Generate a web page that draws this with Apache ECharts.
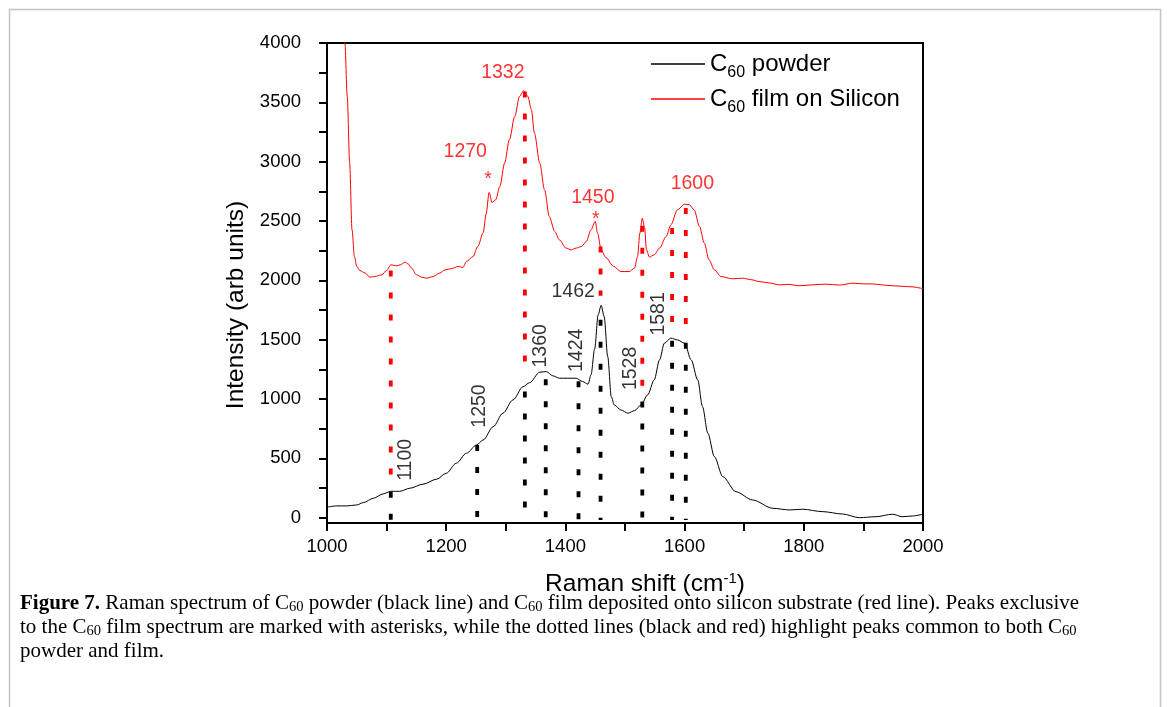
<!DOCTYPE html>
<html>
<head>
<meta charset="utf-8">
<script src="https://cdn.jsdelivr.net/npm/echarts@6/dist/echarts.min.js"></script>
<style>
html, body { margin: 0; padding: 0; background: #fff; }
#chart { width: 1167px; height: 707px; }
</style>
</head>
<body>
<div id="chart"></div>
<script>
// C60 powder (black) spectrum
var powderShift = [1000,1016,1033,1050,1061,1078,1094,1107,1122,1139,1161,1184,1200,1217,1234,1251,1262,1279,1295,1312,1329,1340,1357,1368,1379,1390,1404,1418,1429,1438,1443,1449,1455,1460,1465,1471,1477,1482,1493,1505,1516,1527,1538,1549,1558,1566,1577,1588,1600,1611,1622,1630,1639,1650,1664,1686,1714,1748,1776,1798,1831,1865,1893,1921,1949,1965,1982,2000];
var powderIntensity = [88,99,99,107,127,164,200,222,222,248,282,324,374,459,543,613,655,767,880,992,1104,1138,1226,1231,1195,1175,1175,1175,1147,1125,1203,1420,1710,1790,1695,1358,1020,950,908,880,902,950,1035,1161,1330,1470,1513,1498,1470,1330,1161,936,712,514,346,219,149,79,65,71,51,31,0,8,29,8,14,29];

// C60 film on silicon (red) spectrum
var filmShift = [1027,1030,1034,1038,1042,1046,1050,1055,1064,1072,1080,1092,1100,1107,1117,1123,1131,1136,1142,1150,1159,1167,1178,1189,1198,1209,1220,1228,1234,1245,1253,1262,1267,1272,1277,1283,1290,1298,1306,1315,1323,1330,1337,1343,1348,1357,1365,1373,1382,1390,1401,1410,1418,1427,1435,1443,1450,1454,1460,1468,1481,1493,1507,1516,1521,1525,1529,1533,1536,1541,1549,1558,1569,1577,1588,1600,1608,1616,1625,1633,1641,1650,1661,1680,1697,1712,1725,1742,1759,1775,1792,1815,1837,1860,1882,1900,1915,1930,1943,1958,1971,1985,1996,2000];
var filmIntensity = [4500,4000,3550,2988,2426,2200,2117,2083,2061,2027,2032,2047,2083,2131,2122,2131,2153,2139,2103,2047,2027,2018,2032,2061,2088,2099,2117,2108,2159,2200,2285,2400,2560,2740,2656,2679,2791,2988,3185,3381,3550,3598,3550,3438,3241,2988,2763,2538,2412,2341,2272,2257,2272,2285,2327,2426,2496,2398,2257,2190,2117,2074,2074,2103,2200,2398,2524,2440,2257,2196,2215,2272,2369,2468,2594,2642,2637,2594,2454,2314,2173,2088,2032,2013,2018,2005,1990,1978,1962,1966,1954,1962,1968,1960,1976,1970,1970,1962,1956,1952,1948,1944,1934,1930];

// dotted guide lines
var blackGuideShift = [1107,1252,1332,1367,1422,1459,1529,1579,1602];
var blackGuideTop = [219,613,1063,1167,1150,1667,978,1490,1475];
var redGuideShift = [1107,1332,1459,1529,1579,1602];
var redGuideTop = [2083,3592,2285,2460,2441,2610];
var redGuideBottom = [335,1275,1870,1076,1633,1633];

// peak labels (anchored in data coordinates)
var filmPeakText = ['1332','1270','1450','1600'];
var filmPeakAt = [[1295,3754],[1232,3088],[1446,2696],[1613,2814]];
var filmStarAt = [[1270,2847],[1451,2513]];
var powderPeakText = ['1100','1250','1360','1424','1528','1581'];
var powderPeakAt = [[1132,487],[1256,941],[1358.5,1448],[1419,1410],[1510,1258],[1557,1717]];
var powderFlatText = ['1462'];
var powderFlatAt = [[1413,1903]];

// axes
var xTicks = [1000,1100,1200,1300,1400,1500,1600,1700,1800,1900,2000];
var xLabels = [1000,1200,1400,1600,1800,2000];
var yTicks = [0,250,500,750,1000,1250,1500,1750,2000,2250,2500,2750,3000,3250,3500,3750,4000];
var yLabels = [0,500,1000,1500,2000,2500,3000,3500,4000];

var FONT = 'Liberation Sans, Arial, sans-serif';
var SERIF = 'Liberation Serif, Times New Roman, serif';
var RED = '#ff0000';

function pairs(xs, ys) {
    return xs.map(function (x, i) { return [x, ys[i]]; });
}
function plain(v) { return String(v); }

var chart = echarts.init(document.getElementById('chart'));

var series = [];

// guides first so the spectra sit on top
blackGuideShift.forEach(function (x, i) {
    series.push({
        type: 'line', silent: true, symbol: 'none', z: 1,
        data: [[x, blackGuideTop[i]], [x, -20]],
        lineStyle: { color: '#000', width: 3.8, type: [6, 16] }
    });
});
redGuideShift.forEach(function (x, i) {
    series.push({
        type: 'line', silent: true, symbol: 'none', z: 1,
        data: [[x, redGuideTop[i]], [x, redGuideBottom[i]]],
        lineStyle: { color: RED, width: 3.8, type: [6, 16] }
    });
});

series.push({
    name: 'C60 powder', type: 'line', symbol: 'none', z: 3,
    smooth: 0.3, smoothMonotone: 'x',
    data: pairs(powderShift, powderIntensity),
    itemStyle: { color: '#000' },
    lineStyle: { color: '#000', width: 1 }
});
series.push({
    name: 'C60 film on Silicon', type: 'line', symbol: 'none', z: 3,
    smooth: 0.3, smoothMonotone: 'x',
    data: pairs(filmShift, filmIntensity),
    itemStyle: { color: RED },
    lineStyle: { color: RED, width: 1 }
});

// labels as invisible scatter points
function notes(texts, at, color, rotate) {
    return {
        type: 'scatter', silent: true, symbolSize: 0, z: 4,
        data: at.map(function (p, i) {
            return { value: p, label: { formatter: texts[i] } };
        }),
        label: {
            show: true, position: 'inside', rotate: rotate,
            color: color, fontSize: 19.5, fontFamily: FONT
        }
    };
}
series.push(notes(filmPeakText, filmPeakAt, RED, 0));
series.push(notes(['*', '*'], filmStarAt, RED, 0));
series.push(notes(powderPeakText, powderPeakAt, '#000', 90));
series.push(notes(powderFlatText, powderFlatAt, '#000', 0));

var legendRich = {
    m: { fontSize: 24, fontFamily: FONT, color: '#000' },
    s: { fontSize: 16, fontFamily: FONT, color: '#000', padding: [18, 0, 0, 0] }
};

var captionRich = {
    b: { fontSize: 21, fontFamily: SERIF, fontWeight: 'bold', color: '#000', lineHeight: 24 },
    t: { fontSize: 21, fontFamily: SERIF, color: '#000', lineHeight: 24 },
    s: { fontSize: 14.5, fontFamily: SERIF, color: '#000', padding: [7, 0, 0, 0] }
};

var option = {
    backgroundColor: '#fff',
    animation: false,
    grid: { left: 327, right: 244, top: 43, bottom: 184, show: true, borderColor: '#000', borderWidth: 2 },
    legend: {
        data: ['C60 powder', 'C60 film on Silicon'],
        orient: 'vertical', left: 646, top: 47,
        icon: 'rect', itemWidth: 54, itemHeight: 1.3, itemGap: 6,
        formatter: function (name) {
            return name === 'C60 powder' ? '{m|C}{s|60}{m| powder}' : '{m|C}{s|60}{m| film on Silicon}';
        },
        textStyle: { rich: legendRich }
    },
    xAxis: {
        type: 'value', min: 1000, max: 2000,
        name: '{m|Raman shift (cm}{p|-1}{m|)}',
        nameLocation: 'middle', nameGap: 48,
        nameTextStyle: {
            padding: [0, 0, 0, 40],
            rich: {
                m: { fontSize: 24.5, fontFamily: FONT, color: '#000' },
                p: { fontSize: 15, fontFamily: FONT, color: '#000', padding: [0, 0, 12, 0] }
            }
        },
        axisLine: { onZero: false, lineStyle: { color: '#000', width: 2 } },
        axisTick: { customValues: xTicks, length: 8, lineStyle: { color: '#000', width: 2 } },
        axisLabel: { customValues: xLabels, formatter: plain, margin: 14, fontSize: 18.5, fontFamily: FONT, color: '#000' },
        splitLine: { show: false }
    },
    yAxis: {
        type: 'value', min: -45, max: 4000,
        name: 'Intensity (arb units)',
        nameLocation: 'middle', nameGap: 78,
        nameTextStyle: { fontSize: 24.5, fontFamily: FONT, color: '#000', padding: [0, 44, 0, 0] },
        axisLine: { onZero: false, lineStyle: { color: '#000', width: 2 } },
        axisTick: { customValues: yTicks, length: 8, lineStyle: { color: '#000', width: 2 } },
        axisLabel: { customValues: yLabels, formatter: plain, margin: 26, fontSize: 18.5, fontFamily: FONT, color: '#000' },
        splitLine: { show: false }
    },
    graphic: [
        {
            type: 'polyline', silent: true,
            shape: { points: [[9.5, 707], [9.5, 9.5], [1160.5, 9.5], [1160.5, 707]] },
            style: { stroke: '#c4c4c4', lineWidth: 1.5, fill: null }
        },
        {
            type: 'text', left: 20, top: 593,
            style: {
                text: '{b|Figure 7.}{t| Raman spectrum of C}{s|60}{t| powder (black line) and C}{s|60}{t| film deposited onto silicon substrate (red line). Peaks exclusive}',
                rich: captionRich
            }
        },
        {
            type: 'text', left: 20, top: 617,
            style: {
                text: '{t|to the C}{s|60}{t| film spectrum are marked with asterisks, while the dotted lines (black and red) highlight peaks common to both C}{s|60}',
                rich: captionRich
            }
        },
        {
            type: 'text', left: 20, top: 641,
            style: { text: '{t|powder and film.}', rich: captionRich }
        }
    ],
    series: series
};

chart.setOption(option);
</script>
</body>
</html>
